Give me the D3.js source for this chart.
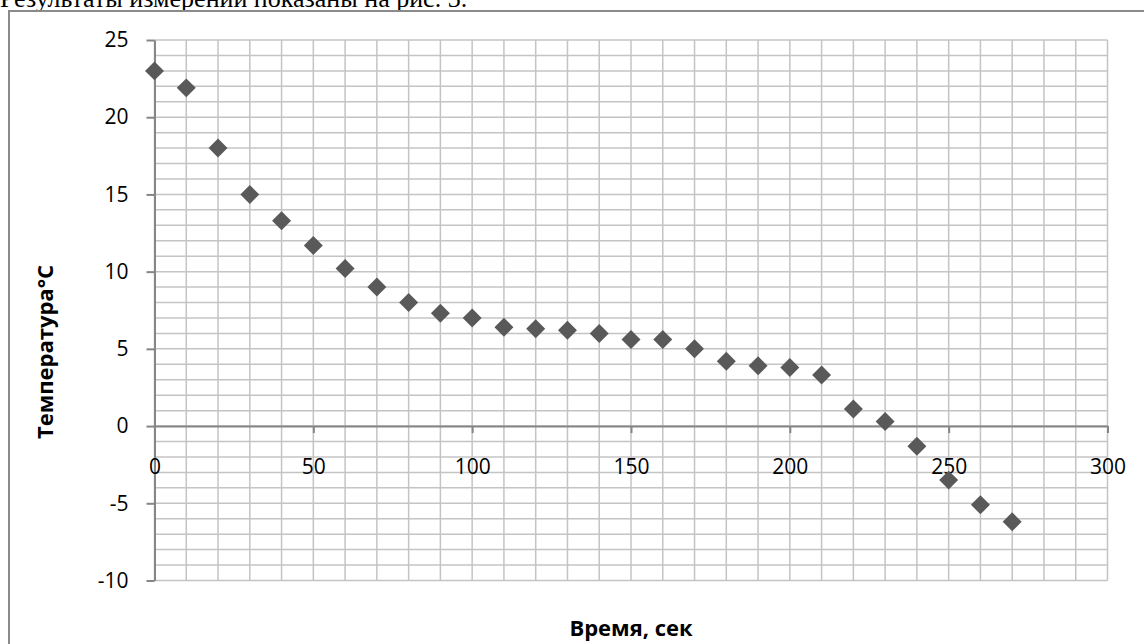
<!DOCTYPE html>
<html>
<head>
<meta charset="utf-8">
<script src="https://cdn.jsdelivr.net/npm/d3@7"></script>
<style>
  body { margin: 0; background: #fff; }
  svg { display: block; }
  .tick text { font-family: "Open Sans", sans-serif; font-size: 21px; fill: #000; }
  .axis-title { font-family: "Open Sans", sans-serif; font-size: 22px; font-weight: bold; fill: #000; }
</style>
</head>
<body>
<div id="chart"></div>
<script>
// measurement data: time (s) and temperature (°C)
const times = [0, 10, 20, 30, 40, 50, 60, 70, 80, 90, 100, 110, 120, 130, 140,
  150, 160, 170, 180, 190, 200, 210, 220, 230, 240, 250, 260, 270];
const temps = [23, 21.9, 18, 15, 13.3, 11.7, 10.2, 9, 8, 7.3, 7, 6.4, 6.3, 6.2, 6,
  5.6, 5.6, 5, 4.2, 3.9, 3.8, 3.3, 1.1, 0.3, -1.3, -3.5, -5.1, -6.2];
const xTicks = [0, 50, 100, 150, 200, 250, 300];
const yTicks = [-10, -5, 0, 5, 10, 15, 20, 25];
const xTitle = 'Время, сек';
const yTitle = 'Температура°C';
const caption = 'Результаты измерений показаны на рис. 3.';

class ScatterChart {
  constructor(_config, _data) {
    this.config = {
      parentElement: _config.parentElement,
      containerWidth: 1144,
      containerHeight: 644,
      plot: { left: 154.5, right: 1107.5, top: 40, bottom: 580.5 },
      gridColor: '#c4c4c4',
      axisColor: '#868686',
      markerColor: '#595959',
    };
    this.data = _data;
    this.initVis();
  }

  initVis() {
    const vis = this;
    const p = vis.config.plot;

    vis.svg = d3.select(vis.config.parentElement).append('svg')
      .attr('width', vis.config.containerWidth)
      .attr('height', vis.config.containerHeight);

    vis.x = d3.scaleLinear().domain([0, 300]).range([p.left, p.right]);
    vis.y = d3.scaleLinear().domain([-10, 25]).range([p.bottom, p.top]);

    vis.renderVis();
  }

  renderVis() {
    const vis = this;
    const p = vis.config.plot;

    // line of page text above the chart (cut at the top, as in the scan)
    vis.svg.append('text')
      .attr('x', 0)
      .attr('y', 7)
      .attr('font-family', '"Liberation Serif", serif')
      .attr('font-size', 26)
      .text(caption);

    // chart frame (only left and top edges are visible)
    vis.svg.append('rect')
      .attr('x', 9).attr('y', 11)
      .attr('width', 1200).attr('height', 700)
      .attr('fill', 'none')
      .attr('stroke', '#8a8a8a')
      .attr('stroke-width', 2);

    /* grid lines */
    vis.svg.append('g').selectAll('line')
      .data(vis.y.ticks(35))
      .join('line')
      .attr('x1', p.left).attr('x2', p.right)
      .attr('y1', (d) => vis.y(d)).attr('y2', (d) => vis.y(d))
      .attr('stroke', vis.config.gridColor)
      .attr('stroke-width', 1.5);

    vis.svg.append('g').selectAll('line')
      .data(vis.x.ticks(30))
      .join('line')
      .attr('x1', (d) => vis.x(d)).attr('x2', (d) => vis.x(d))
      .attr('y1', p.top).attr('y2', p.bottom)
      .attr('stroke', vis.config.gridColor)
      .attr('stroke-width', 1.5);

    const fmt = (d) => String(d); // plain hyphen for negatives

    /* y axis at x = 0 */
    const yAxis = vis.svg.append('g')
      .attr('transform', `translate(${vis.x(0)},0)`)
      .call(d3.axisLeft(vis.y).tickValues(yTicks).tickFormat(fmt)
        .tickSize(8).tickPadding(18).tickSizeOuter(0));

    /* x axis at y = 0, labels pushed down below the line */
    const xAxis = vis.svg.append('g')
      .attr('transform', `translate(0,${vis.y(0)})`)
      .call(d3.axisBottom(vis.x).tickValues(xTicks).tickFormat(fmt)
        .tickSize(7).tickPadding(26).tickSizeOuter(0));

    [xAxis, yAxis].forEach((ax) => {
      ax.select('.domain').attr('stroke', vis.config.axisColor).attr('stroke-width', 2);
      ax.selectAll('.tick line').attr('stroke', vis.config.axisColor).attr('stroke-width', 2);
      ax.selectAll('.tick text').attr('font-family', null).attr('font-size', null);
    });

    /* markers: square rotated 45° */
    const symbol = d3.symbol().type(d3.symbolSquare).size(180);
    vis.svg.append('g').selectAll('path')
      .data(vis.data)
      .join('path')
      .attr('d', symbol)
      .attr('transform', (d) => `translate(${vis.x(d.t)},${vis.y(d.v)}) rotate(45)`)
      .attr('fill', vis.config.markerColor);

    /* axis titles */
    vis.svg.append('text')
      .attr('class', 'axis-title')
      .attr('x', (p.left + p.right) / 2)
      .attr('y', 636)
      .attr('text-anchor', 'middle')
      .text(xTitle);

    vis.svg.append('text')
      .attr('class', 'axis-title')
      .attr('transform', 'translate(53,352) rotate(-90)')
      .attr('text-anchor', 'middle')
      .text(yTitle);
  }
}

const data = times.map((t, i) => ({ t, v: temps[i] }));
new ScatterChart({ parentElement: '#chart' }, data);
</script>
</body>
</html>
